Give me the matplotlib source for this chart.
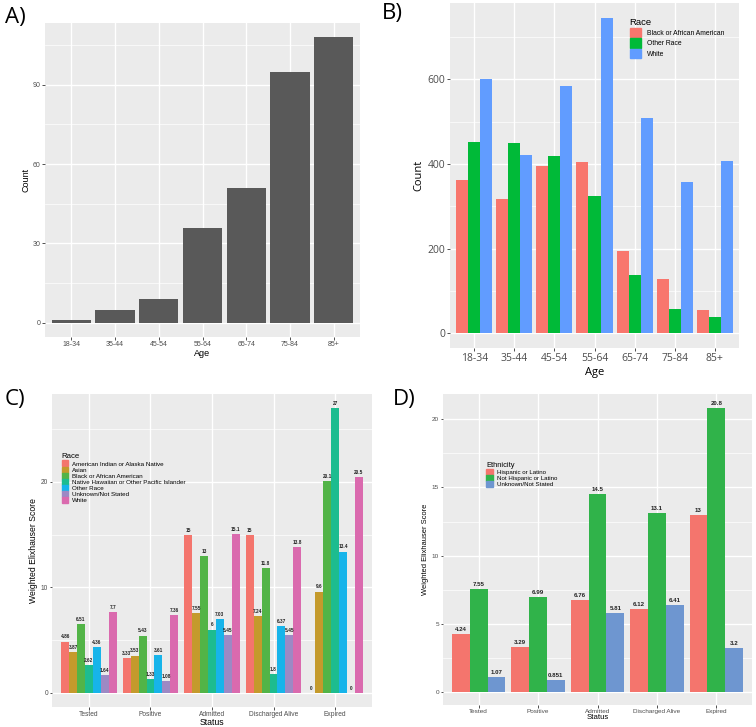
import numpy as np
import matplotlib
matplotlib.use("Agg")
import matplotlib.pyplot as plt
from matplotlib.patches import Patch

plt.rcParams['font.family'] = ['Liberation Sans', 'DejaVu Sans']

W, H = 756, 727

# ---- data ----
ages = ['18-34', '35-44', '45-54', '55-64', '65-74', '75-84', '85+']
counts_a = [1, 5, 9, 36, 51, 95, 108]

races_b = ['Black or African American', 'Other Race', 'White']
black_b = [363, 316, 396, 404, 194, 128, 55]
other_b = [452, 449, 418, 323, 137, 57, 38]
white_b = [600, 420, 583, 745, 508, 356, 407]

statuses = ['Tested', 'Positive', 'Admitted', 'Discharged Alive', 'Expired']
races_c = ['American Indian or Alaska Native', 'Asian', 'Black or African American',
           'Native Hawaiian or Other Pacific Islander', 'Other Race',
           'Unknown/Not Stated', 'White']
amind_c = [4.86, 3.33, 15, 15, 0]
asian_c = [3.87, 3.53, 7.55, 7.24, 9.6]
black_c = [6.51, 5.43, 13, 11.8, 20.1]
nhpi_c = [2.62, 1.33, 6, 1.8, 27]
other_c = [4.36, 3.61, 7.03, 6.37, 13.4]
unk_c = [1.64, 1.08, 5.45, 5.45, 0]
white_c = [7.7, 7.36, 15.1, 13.8, 20.5]

ethn_d = ['Hispanic or Latino', 'Not Hispanic or Latino', 'Unknown/Not Stated']
hisp_d = [4.24, 3.29, 6.76, 6.12, 13]
nonhisp_d = [7.55, 6.99, 14.5, 13.1, 20.8]
unk_d = [1.07, 0.851, 5.81, 6.41, 3.2]

cols_b = ['#F8766D', '#00BA38', '#619CFF']
cols_c = ['#F4756D', '#C49A2C', '#52B447', '#1DBC8F', '#17B4EA', '#9D89C4', '#DA6AAE']
cols_d = ['#F4756D', '#30B34A', '#6E96D0']


def px_axes(fig, x0, y0, x1, y1):
    return fig.add_axes([x0 / W, 1 - y1 / H, (x1 - x0) / W, (y1 - y0) / H])


def gg_style(ax, yticks, yminor, ylim, ncat, tick_fs=5.0, tlen=2.0):
    ax.set_facecolor('#EBEBEB')
    for s in ax.spines.values():
        s.set_visible(False)
    ax.set_xlim(-0.6, ncat - 0.4)
    ax.set_ylim(*ylim)
    ax.set_yticks(yticks)
    ax.set_yticks(yminor, minor=True)
    ax.set_xticks(range(ncat))
    ax.grid(True, which='major', color='white', linewidth=1.0)
    ax.grid(True, which='minor', axis='y', color='white', linewidth=0.5)
    ax.set_axisbelow(True)
    ax.tick_params(which='major', length=tlen, width=0.6, color='#333333',
                   labelsize=tick_fs, labelcolor='#4D4D4D', pad=1.0)
    ax.tick_params(which='minor', length=0)


def dodge(ax, series, colors, width=0.9):
    n = len(series)
    bw = width / n
    x = np.arange(len(series[0]))
    pos = []
    for i, (vals, c) in enumerate(zip(series, colors)):
        xs = x - width / 2 + bw * (i + 0.5)
        ax.bar(xs, vals, width=bw, color=c, linewidth=0)
        pos.append(xs)
    return pos


fig = plt.figure(figsize=(W / 100, H / 100), dpi=100)

# ---- A ----
axA = px_axes(fig, 45, 23, 360, 337)
gg_style(axA, [0, 30, 60, 90], [15, 45, 75, 105], (-5.4, 113.4), 7)
axA.bar(range(7), counts_a, width=0.9, color='#595959', linewidth=0)
axA.set_xticklabels(ages)
axA.set_xlabel('Age', fontsize=6.5, labelpad=0.5)
axA.set_ylabel('Count', fontsize=6.5, labelpad=2)
fig.text(5 / W, 1 - 17 / H, 'A)', fontsize=16, family='Open Sans', va='center')

# ---- B ----
axB = px_axes(fig, 450, 3, 739, 348)
gg_style(axB, [0, 200, 400, 600], [100, 300, 500, 700], (-35, 780), 7,
         tick_fs=7.5, tlen=2.5)
dodge(axB, [black_b, other_b, white_b], cols_b)
axB.set_xticklabels(ages, family='Open Sans')
for t in axB.get_yticklabels():
    t.set_family('Open Sans')
axB.set_xlabel('Age', fontsize=8, family='Open Sans', labelpad=2)
axB.set_ylabel('Count', fontsize=8, family='Open Sans', labelpad=2)
axB.legend(handles=[Patch(color=c, label=l) for c, l in zip(cols_b, races_b)],
           title='Race', loc='upper left', bbox_to_anchor=(0.6, 0.975),
           frameon=False, fontsize=4.9, title_fontsize=6.8,
           handlelength=1.75, handleheight=1.75, labelspacing=0.15,
           handletextpad=0.8, alignment='left')
fig.text(382 / W, 1 - 14 / H, 'B)', fontsize=16, family='Open Sans', va='center')

# ---- C ----
axC = px_axes(fig, 52, 394, 372, 707)
gg_style(axC, [0, 10, 20], [5, 15, 25], (-1.35, 28.35), 5, tick_fs=4.8, tlen=1.8)
seriesC = [amind_c, asian_c, black_c, nhpi_c, other_c, unk_c, white_c]
posC = dodge(axC, seriesC, cols_c)
for xs, vals in zip(posC, seriesC):
    for x, v in zip(xs, vals):
        axC.text(x, v + 0.2, f'{v:g}', ha='center', va='bottom', fontsize=3.4,
                 fontweight='bold', color='#222222')
axC.set_xticklabels(statuses)
axC.set_xlabel('Status', fontsize=6.3, labelpad=0.3)
axC.set_ylabel('Weighted Elixhauser Score', fontsize=6.2, labelpad=2)
axC.legend(handles=[Patch(color=c, label=l) for c, l in zip(cols_c, races_c)],
           title='Race', loc='upper left', bbox_to_anchor=(0.02, 0.82),
           frameon=False, fontsize=4.5, title_fontsize=5.6,
           handlelength=1.1, handleheight=1.1, labelspacing=0.0,
           handletextpad=0.6, alignment='left', borderaxespad=0.3,
           borderpad=0.2)
fig.text(5 / W, 1 - 400 / H, 'C)', fontsize=16, family='Open Sans', va='center')

# ---- D ----
axD = px_axes(fig, 443, 394, 752, 705)
gg_style(axD, [0, 5, 10, 15, 20], [2.5, 7.5, 12.5, 17.5], (-0.95, 21.85), 5,
         tick_fs=4.6, tlen=1.8)
seriesD = [hisp_d, nonhisp_d, unk_d]
posD = dodge(axD, seriesD, cols_d)
for xs, vals in zip(posD, seriesD):
    for x, v in zip(xs, vals):
        axD.text(x, v + 0.15, f'{v:g}', ha='center', va='bottom', fontsize=4.4,
                 fontweight='bold', color='#222222')
axD.set_xticklabels(statuses)
axD.set_xlabel('Status', fontsize=5.6, labelpad=0.3)
axD.set_ylabel('Weighted Elixhauser Score', fontsize=5.4, labelpad=2)
axD.legend(handles=[Patch(color=c, label=l) for c, l in zip(cols_d, ethn_d)],
           title='Ethnicity', loc='upper left', bbox_to_anchor=(0.13, 0.79),
           frameon=False, fontsize=4.4, title_fontsize=5.4,
           handlelength=1.1, handleheight=1.1, labelspacing=0.0,
           handletextpad=0.6, alignment='left', borderaxespad=0.3,
           borderpad=0.2)
fig.text(393 / W, 1 - 400 / H, 'D)', fontsize=16, family='Open Sans', va='center')

fig.savefig('out.png', dpi=100)
